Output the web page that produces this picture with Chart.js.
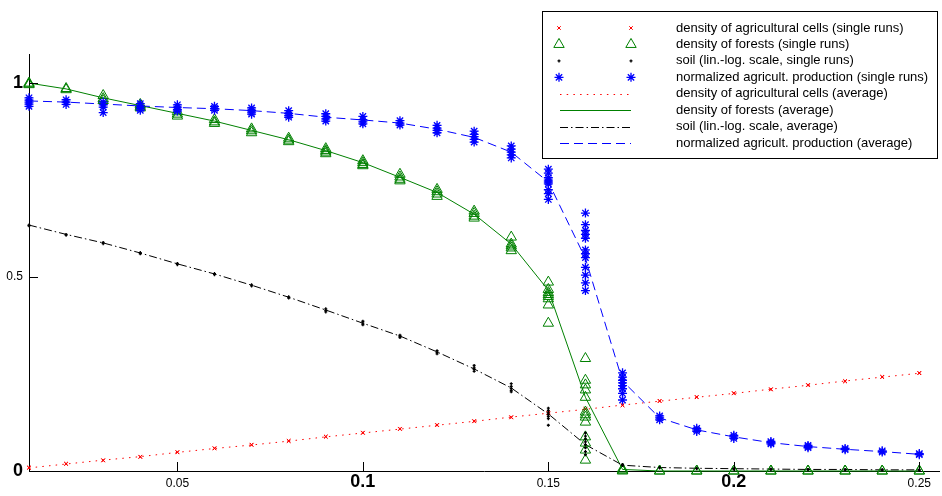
<!DOCTYPE html>
<html>
<head>
<meta charset="utf-8">
<script src="https://cdn.jsdelivr.net/npm/chart.js@4.4.1/dist/chart.umd.min.js"></script>
<style>
    body { margin: 0; background: #fff; }
</style>
</head>
<body>
<canvas id="fireChart" width="942" height="496"></canvas>
<script>
const X_VALUES = [0.01, 0.02, 0.03, 0.04, 0.05, 0.06, 0.07, 0.08, 0.09, 0.10, 0.11, 0.12, 0.13,
    0.14, 0.15, 0.16, 0.17, 0.18, 0.19, 0.20, 0.21, 0.22, 0.23, 0.24, 0.25];
const X_TICKS = [0.05, 0.1, 0.15, 0.2, 0.25];
const Y_TICKS = [0, 0.5, 1];
const BIG_TICKS = [0, 1, 0.1, 0.2];

// averages
const agriAvg = [0.008, 0.018, 0.028, 0.037, 0.048, 0.058, 0.067, 0.077, 0.088, 0.098, 0.108, 0.118, 0.128,
    0.139, 0.149, 0.159, 0.170, 0.180, 0.190, 0.200, 0.211, 0.221, 0.232, 0.242, 0.252];
const forestAvg = [1.0, 0.985, 0.962, 0.942, 0.922, 0.902, 0.878, 0.854, 0.826, 0.795, 0.757, 0.718, 0.662,
    0.585, 0.466, 0.19, 0.004, 0, 0, 0, 0, 0, 0, 0, 0];
const soilAvg = [0.634, 0.61, 0.588, 0.562, 0.534, 0.508, 0.479, 0.448, 0.415, 0.381, 0.348, 0.307, 0.263,
    0.214, 0.147, 0.068, 0.015, 0.009, 0.007, 0.006, 0.005, 0.004, 0.004, 0.003, 0.003];
const prodAvg = [0.954, 0.951, 0.946, 0.941, 0.937, 0.934, 0.929, 0.922, 0.912, 0.905, 0.897, 0.881, 0.86,
    0.822, 0.745, 0.548, 0.232, 0.137, 0.106, 0.088, 0.073, 0.063, 0.056, 0.05, 0.043];

// single runs, one list per x value
const agriRuns = [[0.008, 0.009], [0.018, 0.019], [0.028, 0.027], [0.037, 0.036], [0.048, 0.049],
    [0.058, 0.059], [0.067, 0.068], [0.077, 0.078], [0.088, 0.089], [0.098, 0.099], [0.108, 0.109],
    [0.118, 0.119], [0.128, 0.129], [0.139, 0.138], [0.149, 0.15], [0.159, 0.16], [0.170, 0.169],
    [0.180, 0.181], [0.190, 0.191], [0.200, 0.201], [0.211, 0.21], [0.221, 0.222], [0.232, 0.231],
    [0.242, 0.243], [0.252, 0.253]];
const forestRuns = [[1.0, 0.998, 0.996], [0.986, 0.983], [0.968, 0.96, 0.955], [0.945, 0.94, 0.936],
    [0.926, 0.92, 0.915], [0.906, 0.9, 0.896], [0.882, 0.877, 0.872], [0.858, 0.853, 0.849],
    [0.831, 0.826, 0.822, 0.818], [0.8, 0.795, 0.79, 0.787], [0.765, 0.758, 0.752, 0.748],
    [0.726, 0.72, 0.714, 0.708], [0.67, 0.664, 0.657, 0.652], [0.603, 0.585, 0.58, 0.575, 0.568],
    [0.487, 0.468, 0.46, 0.455, 0.45, 0.444, 0.428, 0.381],
    [0.29, 0.234, 0.222, 0.209, 0.19, 0.152, 0.145, 0.139, 0.126, 0.088, 0.072, 0.054, 0.028],
    [0.005, 0.002, 0], [0, 0], [0, 0], [0, 0], [0, 0], [0, 0], [0, 0], [0, 0], [0, 0]];
const soilRuns = [[0.634, 0.632], [0.61, 0.608], [0.589, 0.586], [0.563, 0.56], [0.535, 0.532],
    [0.509, 0.506], [0.48, 0.477], [0.449, 0.446], [0.418, 0.414, 0.41], [0.386, 0.381, 0.377],
    [0.35, 0.347, 0.344], [0.31, 0.306, 0.302], [0.272, 0.266, 0.262, 0.257],
    [0.225, 0.218, 0.213, 0.208, 0.204],
    [0.162, 0.156, 0.15, 0.145, 0.14, 0.135, 0.118],
    [0.098, 0.09, 0.082, 0.075, 0.068, 0.06, 0.05, 0.042],
    [0.017, 0.014], [0.009, 0.008], [0.007, 0.006], [0.006, 0.005], [0.005, 0.004], [0.004, 0.004],
    [0.004, 0.003], [0.003, 0.003], [0.003, 0.002]];
const prodRuns = [[0.962, 0.956, 0.951, 0.946, 0.94], [0.957, 0.951, 0.945], [0.951, 0.944, 0.938, 0.924],
    [0.947, 0.941, 0.935, 0.93], [0.944, 0.938, 0.932, 0.928], [0.94, 0.935, 0.93],
    [0.936, 0.93, 0.925, 0.92], [0.929, 0.922, 0.917, 0.912], [0.921, 0.914, 0.908, 0.902],
    [0.914, 0.906, 0.9, 0.895], [0.903, 0.897, 0.892], [0.891, 0.884, 0.878, 0.872],
    [0.876, 0.868, 0.862, 0.855, 0.848], [0.838, 0.83, 0.822, 0.815, 0.807],
    [0.778, 0.768, 0.756, 0.75, 0.745, 0.74, 0.725, 0.715, 0.70],
    [0.665, 0.635, 0.62, 0.61, 0.6, 0.57, 0.56, 0.55, 0.525, 0.505, 0.485, 0.465],
    [0.253, 0.242, 0.234, 0.227, 0.22, 0.212, 0.2, 0.183],
    [0.142, 0.137, 0.132], [0.11, 0.106, 0.102], [0.092, 0.088, 0.084], [0.076, 0.073, 0.07],
    [0.066, 0.063, 0.06], [0.058, 0.055], [0.052, 0.049], [0.045, 0.042]];

const FONT = 'Arial, "Liberation Sans", sans-serif';

function runPoints(runs) {
    const pts = [];
    runs.forEach((vals, i) => vals.forEach(v => pts.push({ x: X_VALUES[i], y: v })));
    return pts;
}

function avgPoints(avg) {
    return avg.map((v, i) => ({ x: X_VALUES[i], y: v }));
}

function isBig(value) {
    return BIG_TICKS.some(t => Math.abs(t - value) < 1e-9);
}

// 0, 1, 0.1 and 0.2 come out large and bold in the original export
function tickFont(ctx) {
    const v = ctx.tick ? ctx.tick.value : 0;
    return isBig(v)
        ? { family: FONT, size: 18, weight: 'bold' }
        : { family: FONT, size: 12, weight: 'normal', lineHeight: 1.65 };
}

function scatterSet(label, runs, style, color, radius, width) {
    return {
        label: label,
        data: runPoints(runs),
        showLine: false,
        pointStyle: style,
        pointRadius: radius,
        pointBorderColor: color,
        pointBackgroundColor: 'rgba(0,0,0,0)',
        pointBorderWidth: width,
        clip: false
    };
}

function lineSet(label, avg, color, dash) {
    return {
        label: label,
        data: avgPoints(avg),
        showLine: true,
        borderColor: color,
        borderWidth: 1,
        borderDash: dash,
        pointRadius: 0,
        tension: 0,
        clip: false
    };
}

const datasets = [
    scatterSet('normalized agricult. production (single runs)', prodRuns, 'star', '#0000ff', 4.5, 1.3),
    scatterSet('soil (lin.-log. scale, single runs)', soilRuns, 'cross', '#000000', 1.5, 1.3),
    scatterSet('density of forests (single runs)', forestRuns, 'triangle', '#008000', 6, 1),
    scatterSet('density of agricultural cells (single runs)', agriRuns, 'crossRot', '#ff0000', 2.5, 1),
    lineSet('normalized agricult. production (average)', prodAvg, '#0000ff', [9, 5]),
    lineSet('soil (lin.-log. scale, average)', soilAvg, '#000000', [8, 3, 1.5, 3]),
    lineSet('density of forests (average)', forestAvg, '#008000', []),
    lineSet('density of agricultural cells (average)', agriAvg, '#ff0000', [1.5, 5.2])
];

// legend rows, top to bottom, as dataset indices
const LEGEND_ORDER = [3, 2, 1, 0, 7, 6, 5, 4];

const inwardTicks = {
    id: 'inwardTicks',
    afterDraw(chart) {
        const { ctx, chartArea, scales } = chart;
        ctx.save();
        ctx.strokeStyle = '#000';
        ctx.lineWidth = 1;
        ctx.beginPath();
        X_TICKS.forEach(v => {
            const px = Math.round(scales.x.getPixelForValue(v)) + 0.5;
            ctx.moveTo(px, chartArea.bottom);
            ctx.lineTo(px, chartArea.bottom - 9);
        });
        Y_TICKS.forEach(v => {
            const py = Math.round(scales.y.getPixelForValue(v)) + 0.5;
            ctx.moveTo(chartArea.left, py);
            ctx.lineTo(chartArea.left + 9, py);
        });
        ctx.stroke();
        ctx.restore();
    }
};

const boxLegend = {
    id: 'boxLegend',
    afterDraw(chart) {
        const ctx = chart.ctx;
        const left = 542.5, top = 11.5, w = 395, h = 147;
        ctx.save();
        ctx.fillStyle = '#fff';
        ctx.fillRect(left, top, w, h);
        ctx.strokeStyle = '#000';
        ctx.lineWidth = 1;
        ctx.strokeRect(left, top, w, h);
        ctx.font = '13px ' + FONT;
        ctx.textBaseline = 'middle';
        LEGEND_ORDER.forEach((di, row) => {
            const ds = chart.data.datasets[di];
            const y = 28 + row * 16.45;
            if (ds.showLine) {
                ctx.save();
                ctx.strokeStyle = ds.borderColor;
                ctx.lineWidth = 1;
                ctx.setLineDash(ds.borderDash);
                ctx.beginPath();
                ctx.moveTo(560, Math.round(y) + 0.5);
                ctx.lineTo(631, Math.round(y) + 0.5);
                ctx.stroke();
                ctx.restore();
            } else {
                ctx.save();
                ctx.strokeStyle = ds.pointBorderColor;
                ctx.fillStyle = 'rgba(0,0,0,0)';
                ctx.lineWidth = ds.pointBorderWidth;
                [559, 631].forEach(px => {
                    Chart.helpers.drawPoint(ctx, {
                        pointStyle: ds.pointStyle,
                        radius: ds.pointRadius,
                        borderWidth: ds.pointBorderWidth,
                        rotation: 0
                    }, px, y);
                });
                ctx.restore();
            }
            ctx.fillStyle = '#000';
            ctx.fillText(ds.label, 676, y);
        });
        ctx.restore();
    }
};

new Chart(document.getElementById('fireChart'), {
    type: 'scatter',
    data: { datasets: datasets },
    plugins: [inwardTicks, boxLegend],
    options: {
        responsive: false,
        animation: false,
        devicePixelRatio: 1,
        layout: { autoPadding: false, padding: { top: 54, right: 1, left: 0, bottom: 0 } },
        plugins: {
            legend: { display: false },
            tooltip: { enabled: false }
        },
        scales: {
            x: {
                type: 'linear',
                min: 0.01,
                max: 0.2555,
                afterBuildTicks: scale => { scale.ticks = X_TICKS.map(v => ({ value: v })); },
                afterFit: scale => { scale.height = 25; },
                grid: { display: false, drawTicks: false },
                border: { display: true, color: '#000', width: 1 },
                ticks: {
                    color: '#000',
                    padding: 11,
                    maxRotation: 0,
                    autoSkip: false,
                    crossAlign: 'far',
                    font: tickFont,
                    callback: v => String(v)
                }
            },
            y: {
                type: 'linear',
                min: 0,
                max: 1.075,
                afterBuildTicks: scale => { scale.ticks = Y_TICKS.map(v => ({ value: v })); },
                afterFit: scale => { scale.width = 29; },
                grid: { display: false, drawTicks: false },
                border: { display: true, color: '#000', width: 1 },
                ticks: {
                    color: '#000',
                    padding: 6,
                    autoSkip: false,
                    font: tickFont,
                    callback: v => String(v)
                }
            }
        }
    }
});
</script>
</body>
</html>
